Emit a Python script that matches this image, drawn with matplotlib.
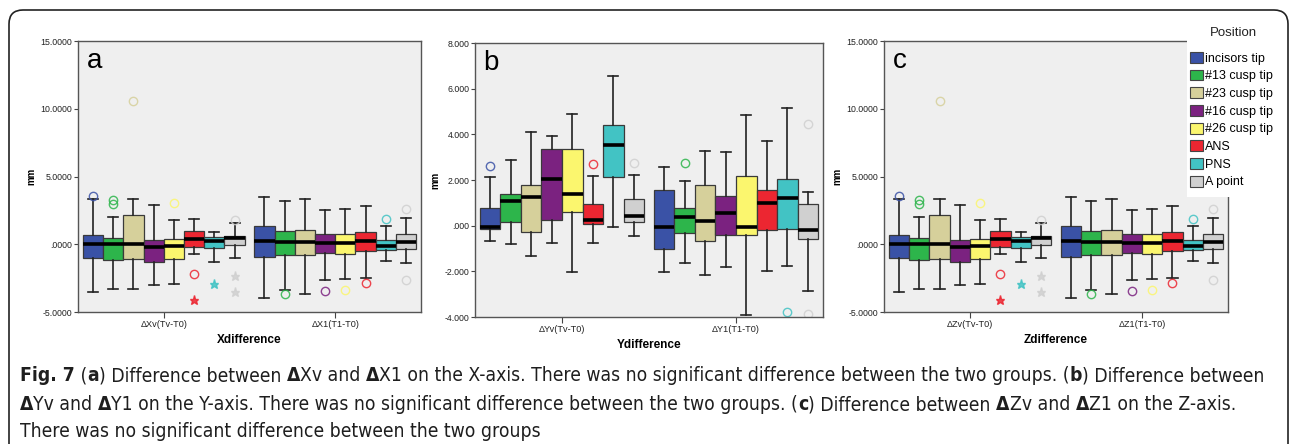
import matplotlib
matplotlib.use("Agg")
import matplotlib.pyplot as plt
from matplotlib.patches import Patch, FancyBboxPatch, Rectangle
from matplotlib.transforms import IdentityTransform
from matplotlib import font_manager

# legend entries and their colours
positions = ["incisors tip", "#13 cusp tip", "#23 cusp tip", "#16 cusp tip",
             "#26 cusp tip", "ANS", "PNS", "A point"]
colors = ["#3a52a6", "#2db54b", "#d6d09b", "#7b2280",
          "#fbf66e", "#ec2631", "#42c3c4", "#d0d0d0"]

# ---- panel a : X difference ----
xv_low = [-3.49, -3.29, -3.29, -3.00, -2.92, -0.69, -1.29, -1.04]
xv_q1 = [-1.04, -1.16, -1.06, -1.34, -1.11, -0.22, -0.30, -0.07]
xv_med = [0.00, 0.00, 0.00, -0.20, -0.15, 0.37, 0.27, 0.45]
xv_q3 = [0.69, 0.45, 2.13, 0.32, 0.37, 0.99, 0.57, 0.64]
xv_high = [3.37, 2.00, 3.37, 2.87, 1.80, 1.83, 0.92, 1.60]
xv_out = [[3.59], [3.24, 3.00], [10.60], [], [3.02], [-2.23], [], [1.80]]
xv_ext = [[], [], [], [], [], [-4.08], [-2.97], [-2.35, -3.54]]

x1_low = [-3.96, -3.39, -3.64, -2.65, -2.55, -2.52, -1.21, -1.36]
x1_q1 = [-0.94, -0.79, -0.82, -0.67, -0.69, -0.52, -0.40, -0.37]
x1_med = [0.22, 0.17, 0.17, 0.12, 0.12, 0.27, -0.10, 0.20]
x1_q3 = [1.31, 0.99, 1.04, 0.72, 0.74, 0.89, 0.30, 0.77]
x1_high = [3.49, 3.19, 3.37, 2.50, 2.62, 2.82, 1.34, 1.91]
x1_out = [[], [-3.64], [], [-3.42], [-3.39], [-2.85], [1.88], [2.60, -2.65]]
x1_ext = [[], [], [], [], [], [], [], []]

# ---- panel b : Y difference ----
yv_low = [-0.68, -0.82, -1.35, -0.75, -2.01, -0.75, -0.08, -0.46]
yv_q1 = [-0.15, 0.16, -0.28, 0.26, 0.61, 0.07, 2.15, 0.17]
yv_med = [-0.05, 1.09, 1.24, 2.06, 1.39, 0.23, 3.52, 0.42]
yv_q3 = [0.78, 1.37, 1.77, 3.36, 3.36, 0.93, 4.43, 1.17]
yv_high = [2.13, 2.88, 4.09, 3.93, 4.91, 2.19, 6.54, 2.20]
yv_out = [[2.63], [], [], [], [], [2.69], [], [2.75]]
yv_ext = [[], [], [], [], [], [], [], []]

y1_low = [-2.05, -1.63, -2.16, -1.80, -3.90, -2.00, -1.75, -2.87]
y1_q1 = [-1.01, -0.33, -0.69, -0.43, -0.39, -0.20, -0.14, -0.59]
y1_med = [-0.05, 0.37, 0.21, 0.54, -0.08, 1.00, 1.21, -0.17]
y1_q3 = [1.56, 0.76, 1.77, 1.30, 2.19, 1.55, 2.06, 0.95]
y1_high = [2.59, 1.96, 3.27, 3.22, 4.84, 3.70, 5.16, 1.46]
y1_out = [[], [2.76], [], [], [], [], [-3.80], [4.44, -3.85]]
y1_ext = [[], [], [], [], [], [], [], []]

# ---- panel c : Z difference (same numbers as in panel a) ----
zv_low, zv_q1, zv_med, zv_q3, zv_high = xv_low, xv_q1, xv_med, xv_q3, xv_high
zv_out, zv_ext = xv_out, xv_ext
z1_low, z1_q1, z1_med, z1_q3, z1_high = x1_low, x1_q1, x1_med, x1_q3, x1_high
z1_out, z1_ext = x1_out, x1_ext

W, H = 1290, 444
fig = plt.figure(figsize=(W / 100, H / 100), dpi=100)
fig.patch.set_facecolor("white")

SANS = "Liberation Sans"
# narrow face for the caption if one is there
names = {f.name for f in font_manager.fontManager.ttflist}
if "Liberation Sans Narrow" in names:
    CAP = dict(family=["Liberation Sans Narrow", "DejaVu Sans"], size=14.9)
else:
    p = font_manager.findfont(font_manager.FontProperties(family="DejaVu Sans", stretch="condensed"))
    if "Condensed" in p:
        CAP = dict(family=["DejaVu Sans"], stretch="condensed", size=13.9)
    else:
        CAP = dict(family=["DejaVu Sans"], size=12.4)

BW = 0.118


def group_stats(low, q1, med, q3, high, out):
    return [dict(whislo=low[i], q1=q1[i], med=med[i], q3=q3[i],
                 whishi=high[i], fliers=out[i]) for i in range(len(low))]


def panel(rect, groups, ylim, yticks, fmt, letter, xlabels, xlabel):
    ax = fig.add_axes(rect)
    ax.set_facecolor("#efefef")
    for g, (stats, ext) in enumerate(groups):
        pos = [g + 1 + (i - 3.5) * BW for i in range(8)]
        art = ax.bxp(stats, positions=pos, widths=BW, patch_artist=True,
                     manage_ticks=False,
                     whiskerprops=dict(color="#222222", lw=1.2),
                     capprops=dict(color="#222222", lw=1.2),
                     medianprops=dict(color="black", lw=2.6),
                     boxprops=dict(edgecolor="#3a3a3a", lw=0.9),
                     capwidths=BW * 0.5)
        for i, b in enumerate(art["boxes"]):
            b.set_facecolor(colors[i])
        for i, fl in enumerate(art["fliers"]):
            fl.set(marker="o", markerfacecolor="none", markeredgecolor=colors[i],
                   markersize=6, markeredgewidth=1.0, alpha=0.85)
        for i, e in enumerate(ext):
            if e:
                ax.plot([pos[i]] * len(e), e, ls="none", marker="*",
                        color=colors[i], markersize=6.5, alpha=0.85)
    ax.set_xlim(0.5, 2.5)
    ax.set_ylim(*ylim)
    ax.set_yticks(yticks)
    labs = []
    for v in yticks:
        s = fmt % v
        if s.startswith("0."):
            s = s[1:]
        labs.append(s)
    ax.set_yticklabels(labs, fontsize=6.3, family=SANS, color="#222222")
    ax.set_xticks([1, 2])
    ax.set_xticklabels(xlabels, fontsize=6.6, family=SANS, color="#222222")
    ax.tick_params(axis="y", length=3, width=0.8, pad=1, color="#444444")
    ax.tick_params(axis="x", length=4, width=0.8, pad=2, color="#444444")
    for sp in ax.spines.values():
        sp.set_color("#555555")
        sp.set_linewidth(1.0)
    ax.set_ylabel("mm", fontsize=7, fontweight="bold", family=SANS, labelpad=3)
    ax.set_xlabel(xlabel, fontsize=8.5, fontweight="bold", family=SANS, labelpad=3)
    ax.text(0.025, 0.975, letter, transform=ax.transAxes, fontsize=20,
            family=SANS, va="top", ha="left")
    return ax


def px(x0, y0, x1, y1):
    return [x0 / W, 1 - y1 / H, (x1 - x0) / W, (y1 - y0) / H]


panel(px(78, 41, 421, 312),
      [(group_stats(xv_low, xv_q1, xv_med, xv_q3, xv_high, xv_out), xv_ext),
       (group_stats(x1_low, x1_q1, x1_med, x1_q3, x1_high, x1_out), x1_ext)],
      (-5, 15), [-5, 0, 5, 10, 15], "%.4f", "a",
      ["\u0394Xv(Tv-T0)", "\u0394X1(T1-T0)"], "Xdifference")
panel(px(475, 43, 823, 317),
      [(group_stats(yv_low, yv_q1, yv_med, yv_q3, yv_high, yv_out), yv_ext),
       (group_stats(y1_low, y1_q1, y1_med, y1_q3, y1_high, y1_out), y1_ext)],
      (-4, 8), [-4, -2, 0, 2, 4, 6, 8], "%.3f", "b",
      ["\u0394Yv(Tv-T0)", "\u0394Y1(T1-T0)"], "Ydifference")
panel(px(884, 41, 1228, 312),
      [(group_stats(zv_low, zv_q1, zv_med, zv_q3, zv_high, zv_out), zv_ext),
       (group_stats(z1_low, z1_q1, z1_med, z1_q3, z1_high, z1_out), z1_ext)],
      (-5, 15), [-5, 0, 5, 10, 15], "%.4f", "c",
      ["\u0394Zv(Tv-T0)", "\u0394Z1(T1-T0)"], "Zdifference")

# legend: white block over the corner of panel c, title, entries
fig.add_artist(Rectangle((1187, H - 197), 120, 197, transform=IdentityTransform(),
                         facecolor="white", edgecolor="none", zorder=3))
fig.text(1233 / W, 1 - 33 / H, "Position", fontsize=9.5, family=SANS,
         ha="center", va="center", color="#222222", zorder=6)
handles = [Patch(facecolor=c, edgecolor="#444444", lw=0.8) for c in colors]
leg = fig.legend(handles, positions, loc="upper left",
                 bbox_to_anchor=(1190 / W, 1 - 52 / H), frameon=False,
                 prop=dict(family=SANS, size=9),
                 handlelength=1.0, handleheight=0.95, handletextpad=0.2,
                 labelspacing=0.4, borderpad=0, borderaxespad=0)
leg.set_zorder(6)

# outer rounded frame, in pixels
frame = FancyBboxPatch((9, -30), 1288 - 9, H - 10 + 30,
                       boxstyle="round,pad=0,rounding_size=14",
                       transform=IdentityTransform(), facecolor="none",
                       edgecolor="#222222", lw=1.2, zorder=7)
fig.add_artist(frame)

# caption
renderer = fig.canvas.get_renderer()


def rich_line(x, y, parts):
    x = x / W
    y = 1 - y / H
    for s, bold in parts:
        t = fig.text(x, y, s, fontweight="bold" if bold else "normal",
                     va="baseline", ha="left", color="#1e1e1e",
                     fontfamily=CAP["family"], fontsize=CAP["size"],
                     fontstretch=CAP.get("stretch", "normal"))
        x += t.get_window_extent(renderer).width / fig.bbox.width


rich_line(20, 381, [("Fig. 7", True), (" (", False), ("a", True),
                    (") Difference between ", False), ("\u0394", True), ("Xv and ", False),
                    ("\u0394", True), ("X1 on the X-axis. There was no significant difference between the two groups. (", False),
                    ("b", True), (") Difference between", False)])
rich_line(20, 410, [("\u0394", True), ("Yv and ", False), ("\u0394", True),
                    ("Y1 on the Y-axis. There was no significant difference between the two groups. (", False),
                    ("c", True), (") Difference between ", False), ("\u0394", True), ("Zv and ", False),
                    ("\u0394", True), ("Z1 on the Z-axis.", False)])
rich_line(20, 437, [("There was no significant difference between the two groups", False)])

fig.savefig("out.png", dpi=100)
